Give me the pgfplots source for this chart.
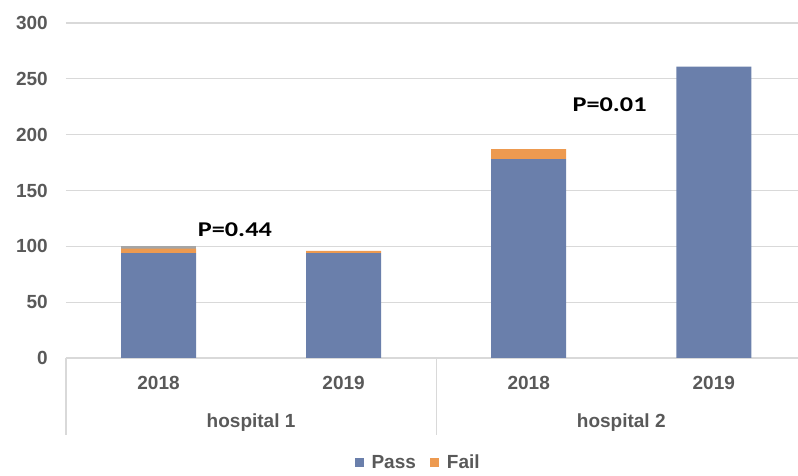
\documentclass[border=0pt]{standalone}
\usepackage{pgfplots}
\pgfplotsset{compat=1.18}
\usepackage{graphicx}
\usepackage{fontspec}
\setmainfont{Liberation Sans}
\newfontfamily\carlito{Carlito}
\definecolor{passc}{HTML}{6A7FAB}
\definecolor{failc}{HTML}{ED9A50}
\definecolor{otherc}{HTML}{A5A5A5}
\definecolor{txt}{HTML}{595959}
\definecolor{gridc}{HTML}{D9D9D9}
\begin{document}
\begin{tikzpicture}
\path[use as bounding box] (0,0) rectangle (798pt,476pt);
\begin{axis}[
  at={(66pt,118pt)}, anchor=south west,
  scale only axis, width=732pt, height=335pt,
  ybar stacked, bar width=75pt,
  xmin=-0.5, xmax=3.455, ymin=0, ymax=300,
  ytick={0,50,...,300},
  xtick={0,1,2,3}, xticklabels={2018,2019,2018,2019},
  ymajorgrids, grid style={draw=gridc, line width=1.2pt},
  axis line style={draw=none},
  major tick length=0pt,
  tick label style={font=\fontsize{19}{22}\selectfont\bfseries, text=txt},
  yticklabel style={inner sep=0pt, xshift=-18pt},
  xticklabel style={inner sep=0pt, yshift=-18pt},
  /pgf/number format/assume math mode=true,
  legend style={at={(0.481,-0.313)}, anchor=center, draw=none, fill=none,
    legend columns=2, font=\fontsize{19}{22}\selectfont\bfseries, text=txt,
    /tikz/every even column/.append style={column sep=12pt},
    /tikz/every odd column/.append style={column sep=6pt}},
  legend image code/.code={\fill[#1, draw=none] (0pt,-4.5pt) rectangle (9pt,4.5pt);},
  clip=false,
]
\addplot[fill=passc, draw=none] coordinates {(0,94) (1,94) (2,178) (3,261)};
\addlegendentry{Pass}
\addplot[fill=failc, draw=none] coordinates {(0,4) (1,2) (2,9) (3,0)};
\addlegendentry{Fail}
\addplot[fill=otherc, draw=none, forget plot] coordinates {(0,2) (1,0) (2,0) (3,0)};
\draw[gridc, line width=1.2pt] (axis cs:-0.5,0) -- ++(0pt,-77pt);
\draw[gridc, line width=1.2pt] (axis cs:1.5,0) -- ++(0pt,-77pt);
\draw[gridc, line width=1.2pt] (axis cs:3.5,0) -- ++(0pt,-77pt);
\node[font=\fontsize{19}{22}\selectfont\bfseries, text=txt] at ([yshift=-65pt]axis cs:0.5,0) {hospital 1};
\node[font=\fontsize{19}{22}\selectfont\bfseries, text=txt] at ([yshift=-65pt]axis cs:2.5,0) {hospital 2};
\node[font=\carlito\bfseries\fontsize{21}{24}\selectfont, text=black] at (axis cs:0.4125,114.6) {\scalebox{1.25}[1]{P=0.44}};
\node[font=\carlito\bfseries\fontsize{21}{24}\selectfont, text=black] at (axis cs:2.437,226.6) {\scalebox{1.25}[1]{P=0.01}};
\end{axis}
\end{tikzpicture}
\end{document}
